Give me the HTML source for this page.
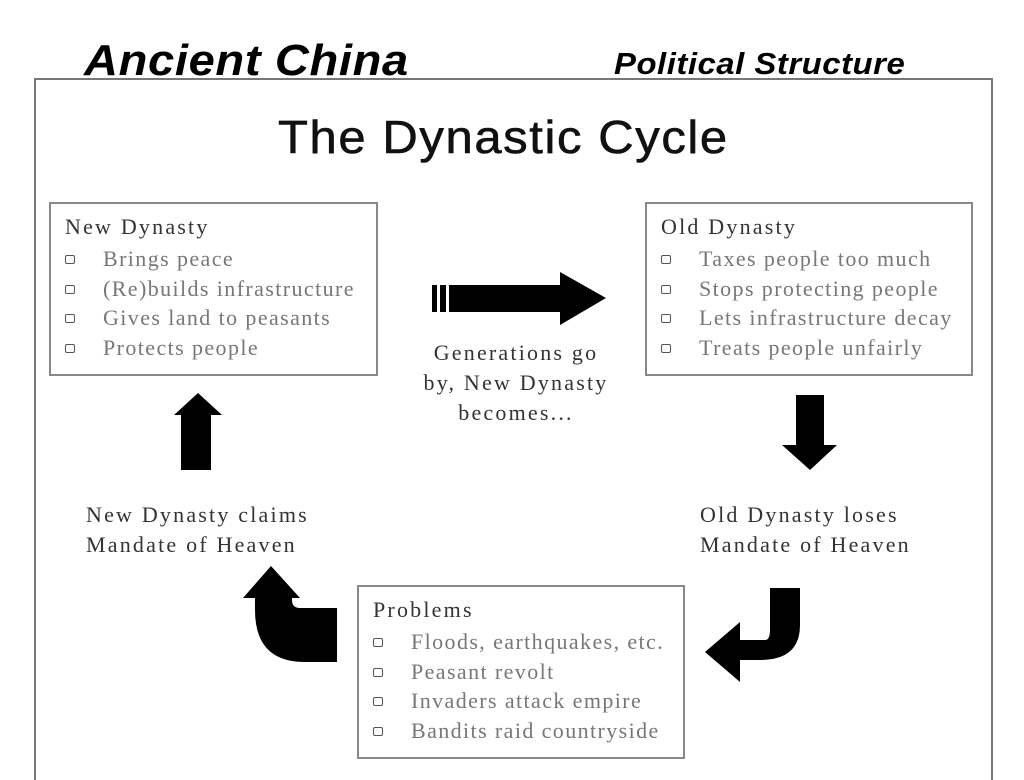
<!DOCTYPE html>
<html><head><style>
body{margin:0;width:1024px;height:768px;background:#fff;position:relative;overflow:hidden;font-family:"Liberation Serif",serif}
.a{position:absolute}
.box{position:absolute;border:2px solid #888;background:#fff}
.box .h{position:absolute;left:14px;top:10px;font-size:22px;color:#333;letter-spacing:2.2px;white-space:nowrap}
.box ul{list-style:none;margin:0;padding:0;position:absolute;left:14px;top:40px;font-size:22px;color:#777;line-height:29.5px;letter-spacing:1.4px;white-space:nowrap}
.box li:before{content:"";display:inline-block;width:8px;height:7px;border:1.5px solid #555;border-radius:2px;margin-right:28px;vertical-align:2px}
.lbl{position:absolute;font-size:22px;color:#333;line-height:30px;letter-spacing:2.2px;white-space:nowrap}
</style></head><body>
<div class="a" style="left:34px;top:78px;width:955px;height:700px;border:2px solid #777;border-bottom:none"></div>
<div class="a" style="left:84px;top:36px;font:italic bold 44px 'Liberation Sans',sans-serif;color:#000;letter-spacing:0.6px;transform:scaleX(1.07);transform-origin:left">Ancient China</div>
<div class="a" style="left:614px;top:46px;font:italic bold 31px 'Liberation Sans',sans-serif;color:#000;letter-spacing:0.5px;transform:scaleX(1.06);transform-origin:left">Political Structure</div>
<div class="a" style="left:278px;top:110px;font:46px 'Liberation Sans',sans-serif;color:#111;letter-spacing:1.5px;-webkit-text-stroke:0.6px #111;transform:scaleX(1.065);transform-origin:left">The Dynastic Cycle</div>

<div class="box" style="left:49px;top:202px;width:325px;height:170px"><div class="h">New Dynasty</div>
<ul><li>Brings peace</li><li>(Re)builds infrastructure</li><li>Gives land to peasants</li><li>Protects people</li></ul></div>
<div class="box" style="left:645px;top:202px;width:324px;height:170px"><div class="h">Old Dynasty</div>
<ul><li>Taxes people too much</li><li>Stops protecting people</li><li>Lets infrastructure decay</li><li>Treats people unfairly</li></ul></div>
<div class="box" style="left:357px;top:585px;width:324px;height:170px"><div class="h">Problems</div>
<ul><li>Floods, earthquakes, etc.</li><li>Peasant revolt</li><li>Invaders attack empire</li><li>Bandits raid countryside</li></ul></div>

<div class="lbl" style="left:406px;top:338px;width:220px;text-align:center">Generations go<br>by, New Dynasty<br>becomes...</div>
<div class="lbl" style="left:86px;top:500px">New Dynasty claims<br>Mandate of Heaven</div>
<div class="lbl" style="left:700px;top:500px">Old Dynasty loses<br>Mandate of Heaven</div>

<svg class="a" style="left:0;top:0" width="1024" height="768">
<g fill="#000">
<rect x="432" y="285" width="5" height="27"/><rect x="440" y="285" width="6" height="27"/><rect x="449" y="285" width="111" height="27"/>
<polygon points="560,272 606,298 560,325"/>
<polygon points="198,393 222,415 211,415 211,470 181,470 181,415 174,415"/>
<polygon points="796,395 824,395 824,445 837,445 810,470 782,445 796,445"/>
<path d="M337,608 L300,608 Q292,608 292,600 L292,598 L300,598 L271,566 L243,598 L255,598 L255,610 Q255,662 305,662 L337,662 Z"/>
<path d="M770,588 L800,588 L800,625 Q800,660 760,660 L740,660 L740,682 L705,652 L740,622 L740,640 L765,640 Q770,640 770,630 Z"/>
</g></svg>
</body></html>
